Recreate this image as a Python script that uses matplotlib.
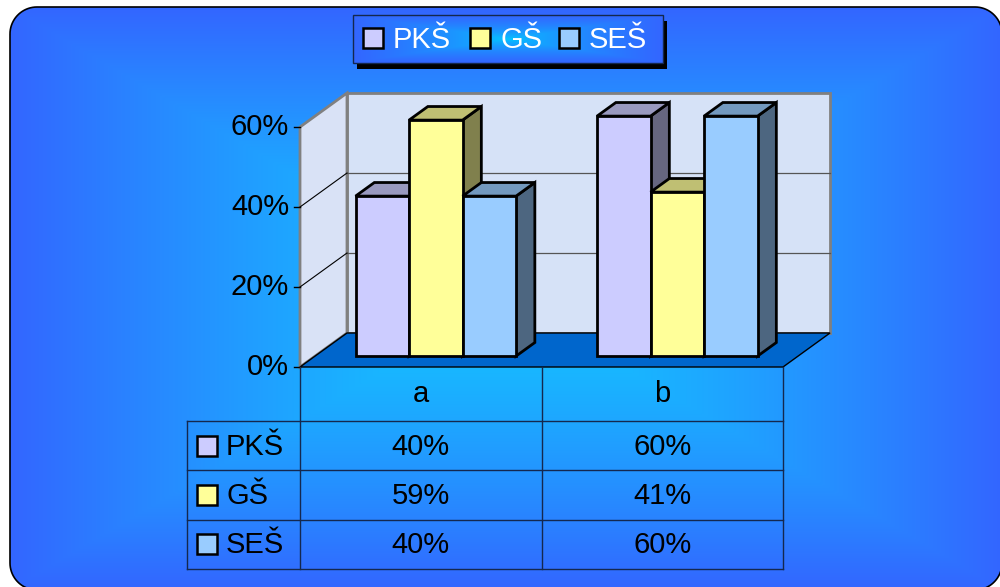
import numpy as np
import matplotlib
matplotlib.use('Agg')
import matplotlib.pyplot as plt
from matplotlib.patches import Polygon, Rectangle, PathPatch
from matplotlib.path import Path
from matplotlib.colors import to_rgb

# data
categories = ['a', 'b']
series_names = ['PKŠ', 'GŠ', 'SEŠ']
pks_values = [0.40, 0.60]
gs_values = [0.59, 0.41]
ses_values = [0.40, 0.60]
y_ticks = [0.0, 0.2, 0.4, 0.6]
series_colors = ['#ccccff', '#ffff99', '#99ccff']

all_values = [pks_values, gs_values, ses_values]

plt.rcParams['font.family'] = ['Liberation Sans', 'DejaVu Sans']

# layout of the fake 3d box (pixels)
X0, X1 = 300, 783          # front edge of the floor
Y0 = 367                   # front baseline (0%)
SCALE = 400                # pixels per 1.0 (100%)
DX, DY = 47, -34           # full depth offset
D0, D1 = 0.32, 0.72        # bar depth span
CW = (X1 - X0) / len(categories)
BW = 53.5
VMAX = y_ticks[-1]
FS = 21


def proj(x, v, d):
    return (x + d * DX, Y0 - v * SCALE + d * DY)


def rect_gradient(w, h, c_in, c_out, gamma=1.0):
    xs = np.linspace(-1, 1, w)
    ys = np.linspace(-1, 1, h)
    X, Y = np.meshgrid(xs, ys)
    t = np.maximum(np.abs(X), np.abs(Y)) ** gamma
    c_in = np.array(to_rgb(c_in))
    c_out = np.array(to_rgb(c_out))
    return c_in[None, None, :] * (1 - t[..., None]) + c_out[None, None, :] * t[..., None]


def rounded_rect(x0, y0, x1, y1, r, n=20):
    # y grows downwards here, corners go clockwise on screen
    pts = []
    corners = [(x0 + r, y0 + r, 180, 270), (x1 - r, y0 + r, 270, 360),
               (x1 - r, y1 - r, 0, 90), (x0 + r, y1 - r, 90, 180)]
    for cx, cy, a0, a1 in corners:
        a = np.radians(np.linspace(a0, a1, n))
        pts += list(zip(cx + r * np.cos(a), cy + r * np.sin(a)))
    pts.append(pts[0])
    return Path(pts)


def shade(color, f):
    return tuple(np.array(to_rgb(color)) * f)


fig = plt.figure(figsize=(10, 5.87), dpi=100, facecolor='white')
ax = fig.add_axes([0, 0, 1, 1])
ax.axis('off')

# background rounded panel with rectangular gradient
panel = PathPatch(rounded_rect(10, 7, 1002, 590, 27), facecolor='none',
                  edgecolor='black', lw=1.2, zorder=1)
ax.add_patch(panel)
bg = ax.imshow(rect_gradient(400, 240, '#14c4ff', '#3366ff', 1.35),
               extent=(10, 1002, 590, 7), aspect='auto', zorder=0, interpolation='bilinear')
bg.set_clip_path(panel)

# walls and floor
back_wall = Polygon([proj(X0, 0, 1), proj(X1, 0, 1), proj(X1, VMAX, 1), proj(X0, VMAX, 1)],
                    closed=True, facecolor='#d6e2f7', edgecolor='#808080', lw=2, zorder=2)
side_wall = Polygon([proj(X0, 0, 0), proj(X0, VMAX, 0), proj(X0, VMAX, 1), proj(X0, 0, 1)],
                    closed=True, facecolor='#d9e2f6', edgecolor='#808080', lw=2, zorder=2)
floor = Polygon([proj(X0, 0, 0), proj(X1, 0, 0), proj(X1, 0, 1), proj(X0, 0, 1)],
                closed=True, facecolor='#0066cc', edgecolor='black', lw=1.0, zorder=2.5)
ax.add_patch(back_wall)
ax.add_patch(side_wall)
ax.add_patch(floor)

for v in y_ticks[1:-1]:
    (xa, ya), (xb, yb) = proj(X0, v, 1), proj(X1, v, 1)
    ax.plot([xa, xb], [ya, yb], color='#555555', lw=0.9, zorder=2.2)
    (xa, ya), (xb, yb) = proj(X0, v, 0), proj(X0, v, 1)
    ax.plot([xa, xb], [ya, yb], color='black', lw=0.8, zorder=2.2)

# y ticks and labels
for v in y_ticks:
    x, y = proj(X0, v, 0)
    ax.plot([x - 6, x], [y, y], color='black', lw=1.0, zorder=3)
    ax.text(x - 11, y, '{:.0%}'.format(v), ha='right', va='center', fontsize=FS,
            color='black', zorder=5)

# bars
for i, cat in enumerate(categories):
    for j, vals in enumerate(all_values):
        v = vals[i]
        xl = X0 + (i + 0.5) * CW + (j - 1.5) * BW
        xr = xl + BW
        col = series_colors[j]
        front = [proj(xl, 0, D0), proj(xr, 0, D0), proj(xr, v, D0), proj(xl, v, D0)]
        top = [proj(xl, v, D0), proj(xr, v, D0), proj(xr, v, D1), proj(xl, v, D1)]
        side = [proj(xr, 0, D0), proj(xr, 0, D1), proj(xr, v, D1), proj(xr, v, D0)]
        z = 4 + i + j * 0.1
        ax.add_patch(Polygon(side, closed=True, facecolor=shade(col, 0.5),
                             edgecolor='black', lw=2, joinstyle='miter', zorder=z))
        ax.add_patch(Polygon(top, closed=True, facecolor=shade(col, 0.75),
                             edgecolor='black', lw=2, joinstyle='miter', zorder=z))
        ax.add_patch(Polygon(front, closed=True, facecolor=col,
                             edgecolor='black', lw=2, joinstyle='miter', zorder=z))

# data table
LINE = '#14284f'
HEADER_H = 54
ROW_H = 49.3
LABEL_X = 187
t_top = Y0
t_head = t_top + HEADER_H
t_bottom = t_head + ROW_H * len(series_names)

for k in range(len(categories) + 1):
    x = X0 + k * CW
    ax.plot([x, x], [t_top, t_bottom], color=LINE, lw=1.0, zorder=5)
ax.plot([LABEL_X, LABEL_X], [t_head, t_bottom], color=LINE, lw=1.0, zorder=5)
for r in range(len(series_names) + 1):
    y = t_head + r * ROW_H
    ax.plot([LABEL_X, X1], [y, y], color=LINE, lw=1.0, zorder=5)

for i, cat in enumerate(categories):
    ax.text(X0 + (i + 0.5) * CW, t_top + HEADER_H / 2, cat, ha='center', va='center',
            fontsize=FS, color='black', zorder=6)

for j, name in enumerate(series_names):
    yc = t_head + (j + 0.5) * ROW_H
    ax.add_patch(Rectangle((LABEL_X + 9.5, yc - 10), 20, 20, facecolor=series_colors[j],
                           edgecolor='black', lw=1.8, zorder=6))
    ax.text(LABEL_X + 39, yc + 1, name, ha='left', va='center', fontsize=FS,
            color='black', zorder=6)
    for i in range(len(categories)):
        ax.text(X0 + (i + 0.5) * CW, yc + 1, '{:.0%}'.format(all_values[j][i]),
                ha='center', va='center', fontsize=FS, color='black', zorder=6)

# legend box
LX, LY, LW, LH = 353, 15, 310, 48
ax.add_patch(Rectangle((LX + 4, LY + 6), LW, LH, facecolor='black', edgecolor='none', zorder=6))
leg_box = Rectangle((LX, LY), LW, LH, facecolor='none', edgecolor=LINE, lw=1.0, zorder=7.5)
ax.add_patch(leg_box)
leg_img = ax.imshow(rect_gradient(200, 40, '#00ccff', '#3366ff', 0.6),
                    extent=(LX, LX + LW, LY + LH, LY), aspect='auto', zorder=7,
                    interpolation='bilinear')
leg_img.set_clip_path(leg_box)

legend_x = [363, 470, 559]
for j, name in enumerate(series_names):
    ax.add_patch(Rectangle((legend_x[j], LY + 13), 20, 20, facecolor=series_colors[j],
                           edgecolor='black', lw=1.8, zorder=8))
    ax.text(legend_x[j] + 30, LY + LH / 2 + 1, name, ha='left', va='center', fontsize=FS,
            color='white', zorder=8)

ax.set_xlim(0, 1000)
ax.set_ylim(587, 0)

fig.savefig('out.png', dpi=100, facecolor='white')
